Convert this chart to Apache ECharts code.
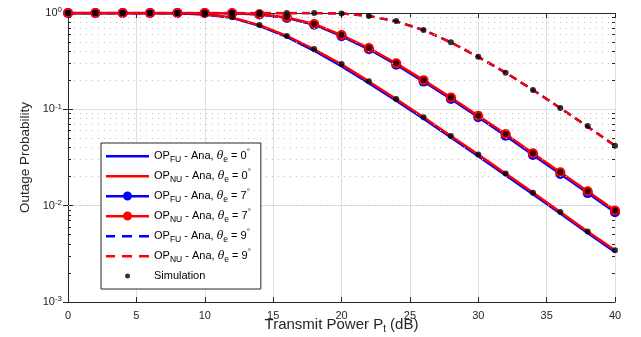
<!DOCTYPE html>
<html><head><meta charset="utf-8">
<script src="https://cdn.jsdelivr.net/npm/echarts@6/dist/echarts.min.js"></script>
<style>html,body{margin:0;padding:0;background:#fff}#c{width:641px;height:337px}</style>
</head><body><div id="c"></div>
<script>
// Transmit power (dB)
var pt = [0,2,4,6,8,10,12,14,16,18,20,22,24,26,28,30,32,34,36,38,40];
// Analytical outage probability, theta_e = 0 deg
var opFU0 = [1,1,1,0.999,0.995,0.965,0.89,0.735,0.565,0.405,0.281,0.187,0.123,0.0797,0.0509,0.0326,0.0207,0.0131,0.0083,0.0052,0.0033];
var opNU0 = [1,1,1,0.999,0.996,0.97,0.90,0.75,0.58,0.42,0.293,0.195,0.128,0.083,0.053,0.034,0.0216,0.0137,0.0086,0.0054,0.00345];
// theta_e = 7 deg
var opFU7 = [1,1,1,1,1,1,0.995,0.965,0.89,0.755,0.575,0.42,0.29,0.194,0.128,0.0826,0.0533,0.0336,0.0213,0.0135,0.00855];
var opNU7 = [1,1,1,1,1,1,0.996,0.97,0.90,0.77,0.59,0.433,0.30,0.201,0.133,0.086,0.0555,0.035,0.0222,0.0141,0.0089];
// theta_e = 9 deg
var opFU9 = [1,1,1,1,1,1,1,1,1,0.999,0.99,0.93,0.82,0.666,0.496,0.35,0.24,0.159,0.103,0.066,0.042];
var opNU9 = [1,1,1,1,1,1,1,1,1,0.999,0.99,0.93,0.82,0.666,0.496,0.35,0.24,0.159,0.103,0.066,0.042];
// Simulation points
var sim0 = [1,1,1,0.999,0.996,0.97,0.905,0.75,0.577,0.423,0.295,0.196,0.128,0.083,0.053,0.034,0.0216,0.0136,0.0086,0.0054,0.00344];
var sim7 = [1,1,1,1,1,1,0.996,0.97,0.91,0.77,0.59,0.433,0.30,0.201,0.133,0.086,0.0554,0.0349,0.0222,0.0141,0.0089];
var sim9 = [1,1,1,1,1,1,1,1,1,1,0.99,0.93,0.826,0.666,0.496,0.352,0.24,0.159,0.103,0.067,0.0419];

var FONT = 'Liberation Sans, Arial, Helvetica, sans-serif';
var AX = '#262626';
function pairs(ys){ return pt.map(function(x,i){ return [x, ys[i]]; }); }

var minorVals = [];
[0.001,0.01,0.1].forEach(function(d){ for (var k=2;k<=9;k++) minorVals.push(+(d*k).toPrecision(3)); });
var minorGrid = minorVals.map(function(v){ return {yAxis: v}; });
var minorTicks = [];
minorVals.forEach(function(v){
  minorTicks.push([{coord:[0,v]},{coord:[0.22,v]}]);
  minorTicks.push([{coord:[39.78,v]},{coord:[40,v]}]);
});

// legend icon shapes (43 x 10 box)
var BOX = 'M0,0L0,0M43,10L43,10';
var ICON_SOLID = 'path://' + BOX + 'M0,4L43,4L43,6.5L0,6.5Z';
var ICON_DASH = 'path://' + BOX + 'M0,4L9,4L9,6.5L0,6.5Z M16,4L26,4L26,6.5L16,6.5Z M33,4L43,4L43,6.5L33,6.5Z';
var ICON_MARK = 'path://' + BOX + 'M0,4L43,4L43,6.5L0,6.5Z M21.5,0.5A4.5,4.5,0,1,1,21.5,9.5A4.5,4.5,0,1,1,21.5,0.5Z';
var ICON_DOT = 'path://' + BOX + 'M21.5,2.5A2.5,2.5,0,1,1,21.5,7.5A2.5,2.5,0,1,1,21.5,2.5Z';

var names = {
  FU0: 'OP{sub|FU} - Ana, {it|θ}{sub|e} = 0{sup|°}',
  NU0: 'OP{sub|NU} - Ana, {it|θ}{sub|e} = 0{sup|°}',
  FU7: 'OP{sub|FU} - Ana, {it|θ}{sub|e} = 7{sup|°}',
  NU7: 'OP{sub|NU} - Ana, {it|θ}{sub|e} = 7{sup|°}',
  FU9: 'OP{sub|FU} - Ana, {it|θ}{sub|e} = 9{sup|°}',
  NU9: 'OP{sub|NU} - Ana, {it|θ}{sub|e} = 9{sup|°}',
  Simulation: 'Simulation'
};

function lineSeries(name, ys, color, dashed, marker){
  return {
    name: name, type: 'line', data: pairs(ys),
    symbol: marker ? 'circle' : 'none', symbolSize: 10, showSymbol: !!marker,
    itemStyle: {color: color},
    lineStyle: {color: color, width: 2.4, type: dashed ? [8,5] : 'solid'},
    animation: false, silent: true
  };
}
function simSeries(ys){
  return {name:'Simulation', type:'scatter', data: pairs(ys), symbol:'circle', symbolSize: 6,
    itemStyle:{color:'#000'}, z: 5, animation:false, silent:true};
}

var chart = echarts.init(document.getElementById('c'), null, {renderer:'canvas'});
chart.setOption({
  animation: false,
  textStyle: {fontFamily: FONT},
  grid: {left: 68, right: 26, top: 13, bottom: 35, containLabel: false, outerBoundsMode: 'none'},
  legend: {
    orient: 'vertical', left: 101, top: 143, z: 30,
    data: [
      {name:'FU0', icon: ICON_SOLID}, {name:'NU0', icon: ICON_SOLID},
      {name:'FU7', icon: ICON_MARK}, {name:'NU7', icon: ICON_MARK},
      {name:'FU9', icon: ICON_DASH}, {name:'NU9', icon: ICON_DASH},
      {name:'Simulation', icon: ICON_DOT}],
    itemWidth: 43, itemHeight: 10, itemGap: 4, itemTextGap: 3,
    itemStyle: {borderWidth: 0},
    backgroundColor: '#fff', borderColor: AX, borderWidth: 1, borderRadius: 0,
    padding: [5, 10, 5, 5],
    formatter: function(n){ return names[n]; },
    textStyle: {fontFamily: FONT, fontSize: 11, color: '#000', lineHeight: 16,
      rich: {
        sub: {fontSize: 8.5, lineHeight: 8, verticalAlign: 'bottom', fontFamily: FONT, color:'#000'},
        sup: {fontSize: 8, lineHeight: 7, verticalAlign: 'top', fontFamily: FONT, color:'#000'},
        it: {fontStyle: 'italic', fontSize: 11, fontFamily: 'DejaVu Serif, serif', color:'#000'}
      }}
  },
  xAxis: [{
    type: 'value', min: 0, max: 40, interval: 5,
    name: 'Transmit Power P{sub|t} (dB)', nameLocation: 'middle', nameGap: 14, nameMoveOverlap: false,
    nameTextStyle: {fontSize: 15, color: AX, fontFamily: FONT, lineHeight: 18,
      rich: {sub: {fontSize: 10, lineHeight: 9, verticalAlign: 'bottom', color: AX, fontFamily: FONT}}},
    axisLine: {show: true, lineStyle: {color: AX, width: 1}},
    axisTick: {show: true, inside: true, length: 5, lineStyle: {color: AX}},
    axisLabel: {color: AX, fontSize: 11, margin: 8, fontFamily: FONT},
    splitLine: {show: true, lineStyle: {color: '#e0e0e0', width: 1}}
  }, {
    type: 'value', min: 0, max: 40, interval: 5, position: 'top',
    axisLine: {show: true, lineStyle: {color: AX, width: 1}},
    axisTick: {show: true, inside: true, length: 5, lineStyle: {color: AX}},
    axisLabel: {show: false}, splitLine: {show: false}
  }],
  yAxis: [{
    type: 'log', logBase: 10, min: 0.001, max: 1,
    name: 'Outage Probability', nameLocation: 'middle', nameGap: 36, nameRotate: 90, nameMoveOverlap: false,
    nameTextStyle: {fontSize: 13.5, color: AX, fontFamily: FONT},
    axisLine: {show: true, lineStyle: {color: AX, width: 1}},
    axisTick: {show: true, inside: true, length: 5, lineStyle: {color: AX}},
    axisLabel: {color: AX, fontSize: 11, margin: 6, fontFamily: FONT, lineHeight: 14,
      formatter: function(v){ return '10{sup|' + Math.round(Math.log10(v)) + '}'; },
      rich: {sup: {fontSize: 8, lineHeight: 8, verticalAlign: 'top', color: AX, fontFamily: FONT}}},
    splitLine: {show: true, lineStyle: {color: '#e0e0e0', width: 1}}
  }, {
    type: 'log', logBase: 10, min: 0.001, max: 1, position: 'right',
    axisLine: {show: true, lineStyle: {color: AX, width: 1}},
    axisTick: {show: true, inside: true, length: 5, lineStyle: {color: AX}},
    axisLabel: {show: false}, splitLine: {show: false}
  }],
  series: [
    {name: 'grid-helper', type: 'line', data: [], silent: true, z: 1,
      markLine: {silent: true, symbol: 'none', animation: false, label: {show: false},
        lineStyle: {type: [1, 5], color: '#c0c0c0', width: 1},
        data: minorGrid}},
    {name: 'tick-helper', type: 'line', data: [], silent: true, z: 1,
      markLine: {silent: true, symbol: 'none', animation: false, label: {show: false},
        lineStyle: {type: 'solid', color: AX, width: 1},
        data: minorTicks}},
    lineSeries('FU0', opFU0, '#0000ff', false, false),
    lineSeries('NU0', opNU0, '#ff0000', false, false),
    lineSeries('FU7', opFU7, '#0000ff', false, true),
    lineSeries('NU7', opNU7, '#ff0000', false, true),
    lineSeries('FU9', opFU9, '#0000ff', true, false),
    lineSeries('NU9', opNU9, '#ff0000', true, false),
    simSeries(sim0), simSeries(sim7), simSeries(sim9)
  ]
});
</script></body></html>
